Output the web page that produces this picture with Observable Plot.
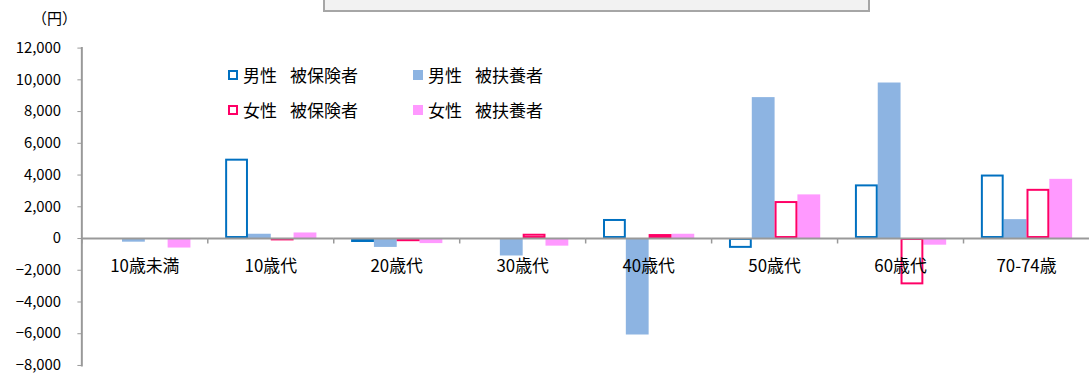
<!DOCTYPE html>
<html>
<head>
<meta charset="utf-8">
<script src="https://cdn.jsdelivr.net/npm/d3@7"></script>
<script src="https://cdn.jsdelivr.net/npm/@observablehq/plot@0.6"></script>
<style>
  html, body { margin: 0; padding: 0; background: #fff; overflow: hidden; }
  #wrap { position: relative; width: 1089px; height: 374px; overflow: hidden; font-family: "Noto Sans CJK JP", sans-serif; }
  #titlebox { position: absolute; left: 323px; top: -20px; width: 547px; height: 32px; background: #f2f2f2; border: 2px solid #a6a6a6; box-sizing: border-box; }
  #unit { position: absolute; left: 32px; top: 8px; font-size: 15px; line-height: 20px; color: #000; }
  .leg { position: absolute; font-size: 17px; line-height: 24px; color: #000; display: flex; align-items: center; white-space: pre; }
  .sw { width: 10px; height: 10px; box-sizing: border-box; margin-right: 5px; }
  .gap { margin-left: 13px; }
  #chart { position: absolute; left: 0; top: 0; }
</style>
</head>
<body>
<div id="wrap">
  <div id="chart"></div>
  <div id="titlebox"></div>
  <div id="unit">（円）</div>
  <div id="legend"></div>
</div>
<script>
const categories = ["10歳未満", "10歳代", "20歳代", "30歳代", "40歳代", "50歳代", "60歳代", "70-74歳"];
const series = ["男性 被保険者", "男性 被扶養者", "女性 被保険者", "女性 被扶養者"];
const maleInsured     = [0, 5000, -250, 100, 1200, -620, 3380, 4000];
const maleDependent   = [-230, 270, -560, -1100, -6080, 8880, 9800, 1190];
const femaleInsured   = [0, -150, -200, 270, 250, 2330, -2920, 3100];
const femaleDependent = [-600, 350, -320, -480, 270, 2750, -420, 3730];
const yTicks = [-8000, -6000, -4000, -2000, 0, 2000, 4000, 6000, 8000, 10000, 12000];

const colors = ["#0070c0", "#8db4e2", "#ff0066", "#ff99ff"];
const outlined = [true, false, true, false];
const valuesBySeries = [maleInsured, maleDependent, femaleInsured, femaleDependent];

const rows = [];
categories.forEach((c, i) => {
  series.forEach((s, j) => rows.push({category: c, series: s, value: valuesBySeries[j][i], k: j}));
});
const outlineRows = rows.filter(d => outlined[d.k]);
const fillRows = rows.filter(d => !outlined[d.k]);

const tickSym = { draw(ctx) { ctx.moveTo(0, 0); ctx.lineTo(0, 5); } };

const chart = Plot.plot({
  width: 1098,
  height: 374,
  marginLeft: 81,
  marginRight: 0,
  marginTop: 48,
  marginBottom: 6,
  style: { fontFamily: "'Noto Sans CJK JP', sans-serif", fontSize: "15px", color: "#000", background: "transparent", overflow: "visible" },
  fx: { domain: categories, padding: 0, axis: null, label: null },
  x: { domain: series, paddingInner: 0, paddingOuter: 0.76, axis: null, label: null },
  y: { domain: [-8000, 12000], axis: null, label: null },
  color: { domain: series, range: colors },
  marks: [
    Plot.barY(fillRows, { fx: "category", x: "series", y: "value", fill: "series", inset: 0 }),
    Plot.barY(outlineRows, { fx: "category", x: "series", y: "value", fill: "white", stroke: "series", strokeWidth: 2, inset: 1 }),
    Plot.ruleY([0], { stroke: "#999", strokeWidth: 2 }),
    Plot.dot(categories, { fx: d => d, y: () => 0, frameAnchor: "left", symbol: tickSym, stroke: "#999", fill: "none", strokeWidth: 1.5, r: 3 }),
    Plot.text(categories, { fx: d => d, y: () => 0, text: d => d, frameAnchor: "middle", dy: 28, fill: "#000", fontSize: 17 }),
    Plot.frame({ anchor: "left", facetAnchor: "left", stroke: "#999", strokeWidth: 2 }),
    Plot.axisY(yTicks, { ticks: yTicks, tickFormat: d3.format(","), tickSize: 4, tickPadding: 17, stroke: "#999", fill: "#000", fontSize: 15, label: null })
  ]
});
document.getElementById("chart").appendChild(chart);

const legendPos = [[228, 75], [413, 75], [228, 110], [413, 110]];
const legend = document.getElementById("legend");
series.forEach((s, j) => {
  const el = document.createElement("div");
  el.className = "leg";
  el.style.left = legendPos[j][0] + "px";
  el.style.top = (legendPos[j][1] - 12) + "px";
  const sw = document.createElement("div");
  sw.className = "sw";
  if (outlined[j]) { sw.style.border = "2px solid " + colors[j]; sw.style.background = "#fff"; }
  else { sw.style.background = colors[j]; }
  el.appendChild(sw);
  const parts = s.split(" ");
  const a = document.createElement("span");
  a.textContent = parts[0];
  const b = document.createElement("span");
  b.className = "gap";
  b.textContent = parts[1];
  el.appendChild(a);
  el.appendChild(b);
  legend.appendChild(el);
});
</script>
</body>
</html>
